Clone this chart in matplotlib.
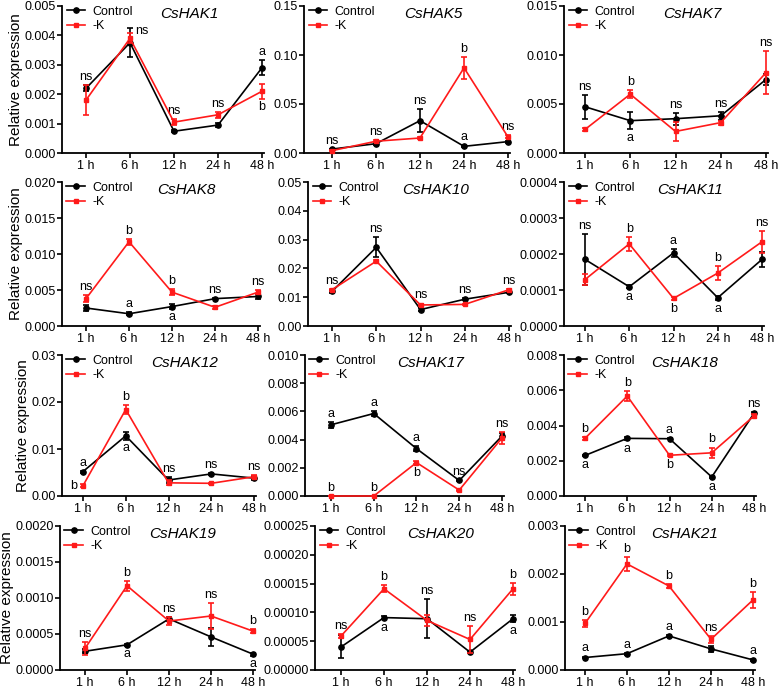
import matplotlib
matplotlib.use("Agg")
import matplotlib.pyplot as plt
from matplotlib.lines import Line2D

plt.rcParams['font.family'] = ['Liberation Sans', 'DejaVu Sans']

times = ["1 h", "6 h", "12 h", "24 h", "48 h"]
genes = ["CsHAK1", "CsHAK5", "CsHAK7", "CsHAK8", "CsHAK10", "CsHAK11",
         "CsHAK12", "CsHAK17", "CsHAK18", "CsHAK19", "CsHAK20", "CsHAK21"]

# ---- data (mean, SE) ----
hak1_ctrl = [0.0022, 0.00375, 0.00074, 0.00095, 0.0029]
hak1_ctrl_err = [0.0001, 0.0005, 0.00004, 0.00006, 0.00025]
hak1_k = [0.0018, 0.0039, 0.00105, 0.0013, 0.0021]
hak1_k_err = [0.0005, 0.00017, 0.0001, 0.0001, 0.00025]

hak5_ctrl = [0.004, 0.0095, 0.033, 0.0068, 0.0116]
hak5_ctrl_err = [0.0005, 0.001, 0.0115, 0.0008, 0.001]
hak5_k = [0.0024, 0.012, 0.0153, 0.0869, 0.0164]
hak5_k_err = [0.0005, 0.001, 0.001, 0.011, 0.0015]

hak7_ctrl = [0.00472, 0.0033, 0.0035, 0.0038, 0.0075]
hak7_ctrl_err = [0.0012, 0.0009, 0.0006, 0.0004, 0.0006]
hak7_k = [0.0024, 0.006, 0.0022, 0.0031, 0.0082]
hak7_k_err = [0.0002, 0.0004, 0.001, 0.0002, 0.0022]

hak8_ctrl = [0.0025, 0.0017, 0.0027, 0.0038, 0.0041]
hak8_ctrl_err = [0.0004, 0.0002, 0.0003, 0.0001, 0.0003]
hak8_k = [0.0038, 0.0117, 0.0047, 0.0026, 0.0047]
hak8_k_err = [0.0005, 0.0004, 0.0004, 0.0002, 0.0003]

hak10_ctrl = [0.012, 0.0273, 0.0057, 0.0093, 0.0117]
hak10_ctrl_err = [0.0005, 0.0035, 0.0005, 0.0003, 0.0003]
hak10_k = [0.0126, 0.0225, 0.0073, 0.0075, 0.0126]
hak10_k_err = [0.0003, 0.0004, 0.0005, 0.0003, 0.0003]

hak11_ctrl = [0.000185, 0.000109, 0.000203, 0.0000785, 0.000185]
hak11_ctrl_err = [0.00007, 0.000004, 0.00001, 0.000006, 0.00002]
hak11_k = [0.000129, 0.000228, 0.0000767, 0.000147, 0.000234]
hak11_k_err = [0.000015, 0.00002, 0.000005, 0.00002, 0.00003]

hak12_ctrl = [0.0052, 0.0128, 0.0034, 0.0047, 0.0038]
hak12_ctrl_err = [0.0002, 0.0008, 0.0007, 0.0002, 0.0005]
hak12_k = [0.0022, 0.0184, 0.0028, 0.0027, 0.0041]
hak12_k_err = [0.0003, 0.0009, 0.0005, 0.0001, 0.0003]

hak17_ctrl = [0.00505, 0.00585, 0.00336, 0.0011, 0.00425]
hak17_ctrl_err = [0.0002, 0.0002, 0.0002, 0.00005, 0.0002]
hak17_k = [0.0, 0.0, 0.00237, 0.00042, 0.00412]
hak17_k_err = [0.0, 0.0, 0.0001, 0.00003, 0.0004]

hak18_ctrl = [0.0023, 0.00327, 0.00325, 0.00108, 0.00469]
hak18_ctrl_err = [0.00005, 0.0001, 0.00003, 0.00005, 0.00005]
hak18_k = [0.00327, 0.00567, 0.00231, 0.00245, 0.00454]
hak18_k_err = [0.0001, 0.0003, 0.00005, 0.0003, 0.0001]

hak19_ctrl = [0.00026, 0.00035, 0.00071, 0.00046, 0.00022]
hak19_ctrl_err = [0.00003, 0.00001, 0.00003, 0.00012, 0.00002]
hak19_k = [0.0003, 0.00117, 0.00068, 0.00075, 0.00054]
hak19_k_err = [0.00009, 0.00007, 0.00005, 0.00018, 0.00003]

hak20_ctrl = [0.00004, 0.000091, 0.000089, 0.000031, 0.000089]
hak20_ctrl_err = [0.00002, 0.000002, 0.000034, 0.000002, 0.000006]
hak20_k = [0.000059, 0.000141, 0.000086, 0.000053, 0.000141]
hak20_k_err = [0.000003, 0.000006, 0.00001, 0.000023, 0.00001]

hak21_ctrl = [0.00026, 0.00034, 0.00071, 0.00044, 0.00021]
hak21_ctrl_err = [0.00002, 0.00002, 0.00002, 0.00007, 0.00002]
hak21_k = [0.00097, 0.00221, 0.00175, 0.00064, 0.00146]
hak21_k_err = [0.00008, 0.00014, 0.00005, 0.00007, 0.00016]

# ---- y ticks (values and label decimals) ----
hak1_ticks = [0, 0.001, 0.002, 0.003, 0.004, 0.005]
hak5_ticks = [0, 0.05, 0.10, 0.15]
hak7_ticks = [0, 0.005, 0.010, 0.015]
hak8_ticks = [0, 0.005, 0.010, 0.015, 0.020]
hak10_ticks = [0, 0.01, 0.02, 0.03, 0.04, 0.05]
hak11_ticks = [0, 0.0001, 0.0002, 0.0003, 0.0004]
hak12_ticks = [0, 0.01, 0.02, 0.03]
hak17_ticks = [0, 0.002, 0.004, 0.006, 0.008, 0.010]
hak18_ticks = [0, 0.002, 0.004, 0.006, 0.008]
hak19_ticks = [0, 0.0005, 0.0010, 0.0015, 0.0020]
hak20_ticks = [0, 0.00005, 0.00010, 0.00015, 0.00020, 0.00025]
hak21_ticks = [0, 0.001, 0.002, 0.003]
tick_decimals = [3, 2, 3, 3, 2, 4, 2, 3, 3, 4, 5, 3]

# ---- significance letters: (time index, text, series, placement) ----
hak1_sig = [(0, 'ns', 'c', 'above'), (1, 'ns', 'k', 'right'), (2, 'ns', 'k', 'above'),
            (3, 'ns', 'k', 'above'), (4, 'a', 'c', 'above'), (4, 'b', 'k', 'below')]
hak5_sig = [(0, 'ns', 'c', 'above'), (1, 'ns', 'k', 'above'), (2, 'ns', 'c', 'above'),
            (3, 'b', 'k', 'above'), (3, 'a', 'c', 'above'), (4, 'ns', 'k', 'above')]
hak7_sig = [(0, 'ns', 'c', 'above'), (1, 'b', 'k', 'above'), (1, 'a', 'c', 'below'),
            (2, 'ns', 'c', 'above'), (3, 'ns', 'c', 'above'), (4, 'ns', 'k', 'above')]
hak8_sig = [(0, 'ns', 'k', 'above'), (1, 'b', 'k', 'above'), (1, 'a', 'c', 'above'),
            (2, 'b', 'k', 'above'), (2, 'a', 'c', 'below'), (3, 'ns', 'c', 'above'),
            (4, 'ns', 'k', 'above')]
hak10_sig = [(0, 'ns', 'k', 'above'), (1, 'ns', 'c', 'above'), (2, 'ns', 'k', 'above'),
             (3, 'ns', 'c', 'above'), (4, 'ns', 'k', 'above')]
hak11_sig = [(0, 'ns', 'c', 'above'), (1, 'b', 'k', 'above'), (1, 'a', 'c', 'below'),
             (2, 'a', 'c', 'above'), (2, 'b', 'k', 'below'), (3, 'b', 'k', 'above'),
             (3, 'a', 'c', 'below'), (4, 'ns', 'k', 'above')]
hak12_sig = [(0, 'a', 'c', 'above'), (0, 'b', 'k', 'left'), (1, 'b', 'k', 'above'),
             (1, 'a', 'c', 'below'), (2, 'ns', 'c', 'above'), (3, 'ns', 'c', 'above'),
             (4, 'ns', 'k', 'above')]
hak17_sig = [(0, 'a', 'c', 'above'), (0, 'b', 'k', 'above'), (1, 'a', 'c', 'above'),
             (1, 'b', 'k', 'above'), (2, 'a', 'c', 'above'), (2, 'b', 'k', 'below'),
             (3, 'ns', 'c', 'above'), (4, 'ns', 'k', 'above')]
hak18_sig = [(0, 'b', 'k', 'above'), (0, 'a', 'c', 'below'), (1, 'b', 'k', 'above'),
             (1, 'a', 'c', 'below'), (2, 'a', 'c', 'above'), (2, 'b', 'k', 'below'),
             (3, 'b', 'k', 'above'), (3, 'a', 'c', 'below'), (4, 'ns', 'c', 'above')]
hak19_sig = [(0, 'ns', 'k', 'above'), (1, 'b', 'k', 'above'), (1, 'a', 'c', 'below'),
             (2, 'ns', 'c', 'above'), (3, 'ns', 'k', 'above'), (4, 'b', 'k', 'above'),
             (4, 'a', 'c', 'below')]
hak20_sig = [(0, 'ns', 'k', 'above'), (1, 'b', 'k', 'above'), (1, 'a', 'c', 'below'),
             (2, 'ns', 'c', 'above'), (3, 'ns', 'k', 'above'), (4, 'b', 'k', 'above'),
             (4, 'a', 'c', 'below')]
hak21_sig = [(0, 'b', 'k', 'above'), (0, 'a', 'c', 'above'), (1, 'b', 'k', 'above'),
             (1, 'a', 'c', 'above'), (2, 'b', 'k', 'above'), (2, 'a', 'c', 'above'),
             (3, 'ns', 'k', 'above'), (4, 'b', 'k', 'above'), (4, 'a', 'c', 'above')]

panels = [
    (hak1_ctrl, hak1_ctrl_err, hak1_k, hak1_k_err, hak1_ticks, hak1_sig),
    (hak5_ctrl, hak5_ctrl_err, hak5_k, hak5_k_err, hak5_ticks, hak5_sig),
    (hak7_ctrl, hak7_ctrl_err, hak7_k, hak7_k_err, hak7_ticks, hak7_sig),
    (hak8_ctrl, hak8_ctrl_err, hak8_k, hak8_k_err, hak8_ticks, hak8_sig),
    (hak10_ctrl, hak10_ctrl_err, hak10_k, hak10_k_err, hak10_ticks, hak10_sig),
    (hak11_ctrl, hak11_ctrl_err, hak11_k, hak11_k_err, hak11_ticks, hak11_sig),
    (hak12_ctrl, hak12_ctrl_err, hak12_k, hak12_k_err, hak12_ticks, hak12_sig),
    (hak17_ctrl, hak17_ctrl_err, hak17_k, hak17_k_err, hak17_ticks, hak17_sig),
    (hak18_ctrl, hak18_ctrl_err, hak18_k, hak18_k_err, hak18_ticks, hak18_sig),
    (hak19_ctrl, hak19_ctrl_err, hak19_k, hak19_k_err, hak19_ticks, hak19_sig),
    (hak20_ctrl, hak20_ctrl_err, hak20_k, hak20_k_err, hak20_ticks, hak20_sig),
    (hak21_ctrl, hak21_ctrl_err, hak21_k, hak21_k_err, hak21_ticks, hak21_sig),
]

# ---- layout in pixels ----
W, H = 778, 689
# per panel: left spine x, x of first category, x of last category
xpos = [(62, 86, 262), (304, 332, 508), (564, 585, 766),
        (62, 86, 258), (308, 332, 509), (564, 585, 762),
        (62, 83, 254), (305, 331, 502), (564, 585, 754),
        (60, 85, 253), (315, 341, 513), (565, 585, 753)]
rows_y = [(6, 153), (182, 326), (355, 496), (526, 670)]

RED = '#ff1a1a'
FS = 9

fig = plt.figure(figsize=(W / 100, H / 100), dpi=100)

for idx, (gene, pan) in enumerate(zip(genes, panels)):
    ctrl, ctrl_err, kk, kk_err, ticks, sig = pan
    r = idx // 3
    left, x1, x48 = xpos[idx]
    top, bot = rows_y[r]
    right = x48 + 2
    ax = fig.add_axes([left / W, 1 - bot / H, (right - left) / W, (bot - top) / H])
    s = (x48 - x1) / 4.0
    ax.set_xlim((left - x1) / s, (right - x1) / s)
    ax.set_ylim(0, ticks[-1])
    xs = list(range(len(times)))

    ax.errorbar(xs, ctrl, yerr=ctrl_err, color='black', marker='o', ms=3.8,
                lw=1.2, elinewidth=1.2, capsize=2.5, capthick=1.2,
                zorder=3, clip_on=False)
    ax.errorbar(xs, kk, yerr=kk_err, color=RED, marker='s', ms=3.3,
                lw=1.2, elinewidth=1.2, capsize=2.5, capthick=1.2,
                zorder=4, clip_on=False)

    ax.set_xticks(xs)
    ax.set_xticklabels(times, fontsize=FS)
    ax.set_yticks(ticks)
    d = tick_decimals[idx]
    ax.set_yticklabels([f"{t:.{d}f}" for t in ticks], fontsize=FS)
    for side in ('top', 'right'):
        ax.spines[side].set_visible(False)
    for side in ('left', 'bottom'):
        ax.spines[side].set_linewidth(1.3)
    ax.tick_params(direction='out', length=3.5, width=1.2, pad=1.2)

    ax.text(0.63, 0.945, gene, transform=ax.transAxes, ha='center', va='center',
            fontsize=11, style='italic')

    handles = [Line2D([], [], color='black', marker='o', ms=3.8, lw=1.2),
               Line2D([], [], color=RED, marker='s', ms=3.3, lw=1.2)]
    ax.legend(handles, ['Control', '-K'], loc='upper left', frameon=False,
              fontsize=FS, handlelength=1.5, handletextpad=0.6,
              labelspacing=0.2, borderaxespad=0.0, borderpad=0.2,
              bbox_to_anchor=(0.01, 1.02))

    for (i, txt, ser, where) in sig:
        if ser == 'c':
            v, e = ctrl[i], ctrl_err[i]
        else:
            v, e = kk[i], kk_err[i]
        if where == 'above':
            ax.annotate(txt, (i, v + e), xytext=(0, 1.5), textcoords='offset points',
                        ha='center', va='bottom', fontsize=FS)
        elif where == 'below':
            ax.annotate(txt, (i, v - e), xytext=(0, -2), textcoords='offset points',
                        ha='center', va='top', fontsize=FS)
        elif where == 'right':
            ax.annotate(txt, (i, v + e), xytext=(4, 2), textcoords='offset points',
                        ha='left', va='center', fontsize=FS)
        else:
            ax.annotate(txt, (i, v), xytext=(-4, 0), textcoords='offset points',
                        ha='right', va='center', fontsize=FS)

    if idx % 3 == 0:
        ax.set_ylabel('Relative expression', fontsize=11, labelpad=1)

fig.savefig('out.png', dpi=100)
